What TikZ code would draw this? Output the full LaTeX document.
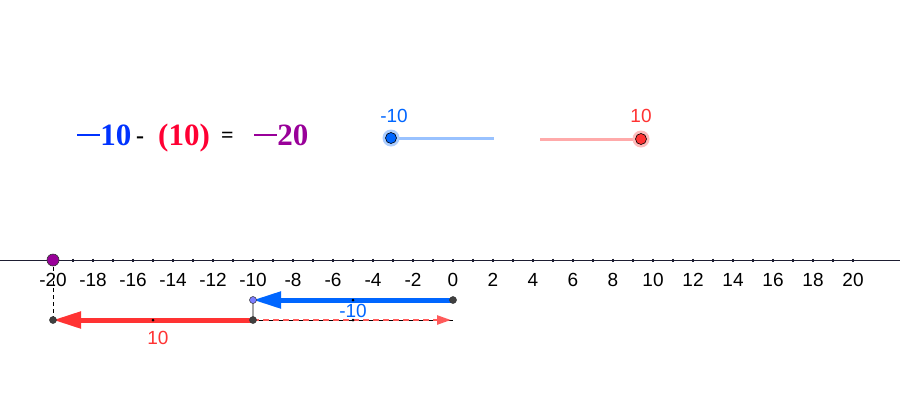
\documentclass[tikz,border=0pt]{standalone}
\usepackage{fontspec}
\setmainfont{Liberation Sans}
\newfontfamily\eqfont{Liberation Serif}
\usetikzlibrary{arrows.meta}
\definecolor{axiscol}{RGB}{30,30,50}
\definecolor{vblue}{RGB}{0,102,255}
\definecolor{vred}{RGB}{255,51,51}
\definecolor{dred}{RGB}{255,90,90}
\definecolor{eqblue}{RGB}{0,51,255}
\definecolor{eqred}{RGB}{255,0,51}
\definecolor{eqpurple}{RGB}{153,0,153}
\definecolor{ptgray}{RGB}{64,64,64}
\definecolor{lblue}{RGB}{153,194,255}
\definecolor{lred}{RGB}{255,170,170}
\definecolor{violetpt}{RGB}{125,125,255}
\begin{document}
\begin{tikzpicture}[x=1pt,y=-1pt,
  ticklab/.style={font=\fontsize{19}{19}\selectfont, text=black, inner sep=0pt},
  vlab/.style={font=\fontsize{19}{19}\selectfont, inner sep=0pt},
  pt/.style={circle, fill=ptgray, draw=black!80, line width=0.5pt, minimum size=7pt, inner sep=0pt},
  smallpt/.style={circle, fill=black, minimum size=3pt, inner sep=0pt},
  eq/.style={font=\eqfont\bfseries\fontsize{31}{31}\selectfont, inner sep=0pt, anchor=base west},
  vec/.style={line width=5pt, -{Triangle[length=28pt,width=16pt]}},
]
\useasboundingbox (0,0) rectangle (900,400);
\fill[white] (0,0) rectangle (900,400);

% equation
\node[eq, text=eqblue] (e1) at (77,145) {\rule[0.3em]{0.75em}{0.05em}10};
\node[eq, text=black, font=\eqfont\bfseries\fontsize{24}{24}\selectfont] (e2) at (136,143) {-};
\node[eq, text=eqred] (e3) at (158,145) {(10)};
\node[eq, text=black, font=\eqfont\bfseries\fontsize{22}{22}\selectfont] (e4) at (221,142) {=};
\node[eq, text=eqpurple] (e5) at (254,145) {\rule[0.3em]{0.75em}{0.05em}20};

% sliders
\coordinate (sb1) at (391,138);
\coordinate (sb2) at (494,138);
\draw[lblue, line width=3pt] (sb1) -- (sb2);
\fill[lblue!80] (sb1) circle (8.5pt);
\node[circle, fill=vblue, draw=black, line width=0.6pt, minimum size=11pt, inner sep=0pt] (sbp) at (sb1) {};
\node[vlab, text=vblue] (sbl) at (394,116) {-10};

\coordinate (sr1) at (540,139);
\coordinate (sr2) at (641,139);
\draw[lred, line width=3pt] (sr1) -- (sr2);
\fill[lred!80] (sr2) circle (8.5pt);
\node[circle, fill=vred, draw=black, line width=0.6pt, minimum size=11pt, inner sep=0pt] (srp) at (sr2) {};
\node[vlab, text=vred] (srl) at (641,116) {10};

% axis
\coordinate (axL) at (0,260);
\coordinate (axR) at (900,260);
\draw[axiscol, line width=1pt] (axL) -- (axR);
\foreach \i in {-20,...,20} {
  \draw[axiscol, line width=1.2pt] (453+20*\i,258.5) -- (453+20*\i,261.5);
}
\foreach \i in {-20,-18,...,20} {
  \node[ticklab] at (453+20*\i,280) {\i};
}

% points
\coordinate (P0) at (453,300);
\coordinate (Pm10) at (253,300);
\coordinate (Q10) at (253,320);
\coordinate (Q20) at (53,320);
\coordinate (Q0) at (453,320);
\coordinate (QA) at (451,320);
\coordinate (A20) at (53,260);

% dashed projection
\draw[black, line width=1pt, dash pattern=on 4pt off 3pt] (A20) -- (Q20);
% gray connector
\draw[gray!70, line width=1.5pt] (Pm10) -- (Q10);

% thin black segment and red dashed arrow
\draw[black, line width=0.6pt] (Q10) -- (Q0);
\draw[dred, line width=2.4pt, dash pattern=on 6pt off 4pt, -{Triangle[length=14pt,width=9pt]}] (Q10) -- (QA);

% blue vector
\draw[vec, vblue] (P0) -- (Pm10);
% red vector
\draw[vec, vred] (Q10) -- (Q20);

% midpoints
\node[smallpt] (mb) at (353,300) {};
\node[smallpt] (mr) at (153,320) {};
\node[smallpt] (md) at (353,320) {};

% labels
\node[vlab, text=vblue] (lb) at (353,311) {-10};
\node[vlab, text=vred] (lr) at (158,338) {10};

% point markers
\node[pt] (n0) at (P0) {};
\node[circle, fill=violetpt, draw=black!80, line width=0.5pt, minimum size=7pt, inner sep=0pt] (nm10) at (Pm10) {};
\node[pt] (nq10) at (Q10) {};
\node[pt] (nq20) at (Q20) {};
\node[circle, fill=eqpurple, draw=black!80, line width=0.6pt, minimum size=12pt, inner sep=0pt] (na20) at (A20) {};
\end{tikzpicture}
\end{document}
